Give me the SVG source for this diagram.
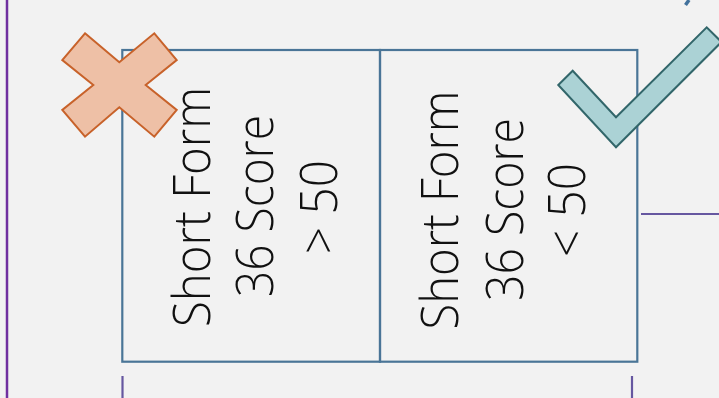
<svg xmlns="http://www.w3.org/2000/svg" width="719" height="398" viewBox="0 0 719 398">
<style>
.bg{fill:#f2f2f2}
.cell{fill:none;stroke:#4a7597;stroke-width:2.2}
.conn{stroke:#6657a0;stroke-width:2.2;fill:none}
.lbl{font-family:"Open Sans","Noto Sans","Liberation Sans",sans-serif;font-weight:300;font-size:51px;fill:#111;text-anchor:middle}
.cross{fill:#eec0a6;stroke:#c8622a;stroke-width:2}
.check{fill:#abd2d5;stroke:#32666a;stroke-width:2}
</style>
<rect class="bg" x="0" y="0" width="719" height="398"/>
<g id="connectors">
<line x1="7" y1="0" x2="7" y2="398" stroke="#7030a0" stroke-width="2.5"/>
<line class="conn" x1="641" y1="214" x2="719" y2="214"/>
<line class="conn" x1="122.5" y1="376" x2="122.5" y2="398"/>
<line class="conn" x1="632" y1="376" x2="632" y2="398"/>
<line x1="689" y1="0" x2="685.5" y2="5" stroke="#41719c" stroke-width="3.5"/>
</g>
<g id="cell-gt50">
<rect class="cell" x="122.3" y="50" width="257.7" height="311.7"/>
<text class="lbl" transform="translate(210,207) rotate(-90)" textLength="240" lengthAdjust="spacingAndGlyphs">Short Form</text>
<text class="lbl" transform="translate(273,206) rotate(-90)" textLength="182" lengthAdjust="spacingAndGlyphs">36 Score</text>
<text class="lbl" transform="translate(336.5,207) rotate(-90)" textLength="94" lengthAdjust="spacingAndGlyphs">&gt; 50</text>
</g>
<g id="cell-lt50">
<rect class="cell" x="380" y="50" width="257.3" height="311.7"/>
<text class="lbl" transform="translate(458,210) rotate(-90)" textLength="239" lengthAdjust="spacingAndGlyphs">Short Form</text>
<text class="lbl" transform="translate(523,209.5) rotate(-90)" textLength="183" lengthAdjust="spacingAndGlyphs">36 Score</text>
<text class="lbl" transform="translate(585,210) rotate(-90)" textLength="94" lengthAdjust="spacingAndGlyphs">&lt; 50</text>
</g>
<g id="cross-mark">
<polygon class="cross" points="85,33.3 119.3,62.3 154.3,33.3 176.7,60 145.7,85 176.7,110 154.3,136.7 119.3,107.3 85,136.7 62.3,110 93.3,85 62.3,60"/>
</g>
<g id="check-mark">
<polygon class="check" points="558.3,85 572.7,70.7 616,117.3 706.7,27.3 721.5,42 616,147.3"/>
</g>
</svg>
